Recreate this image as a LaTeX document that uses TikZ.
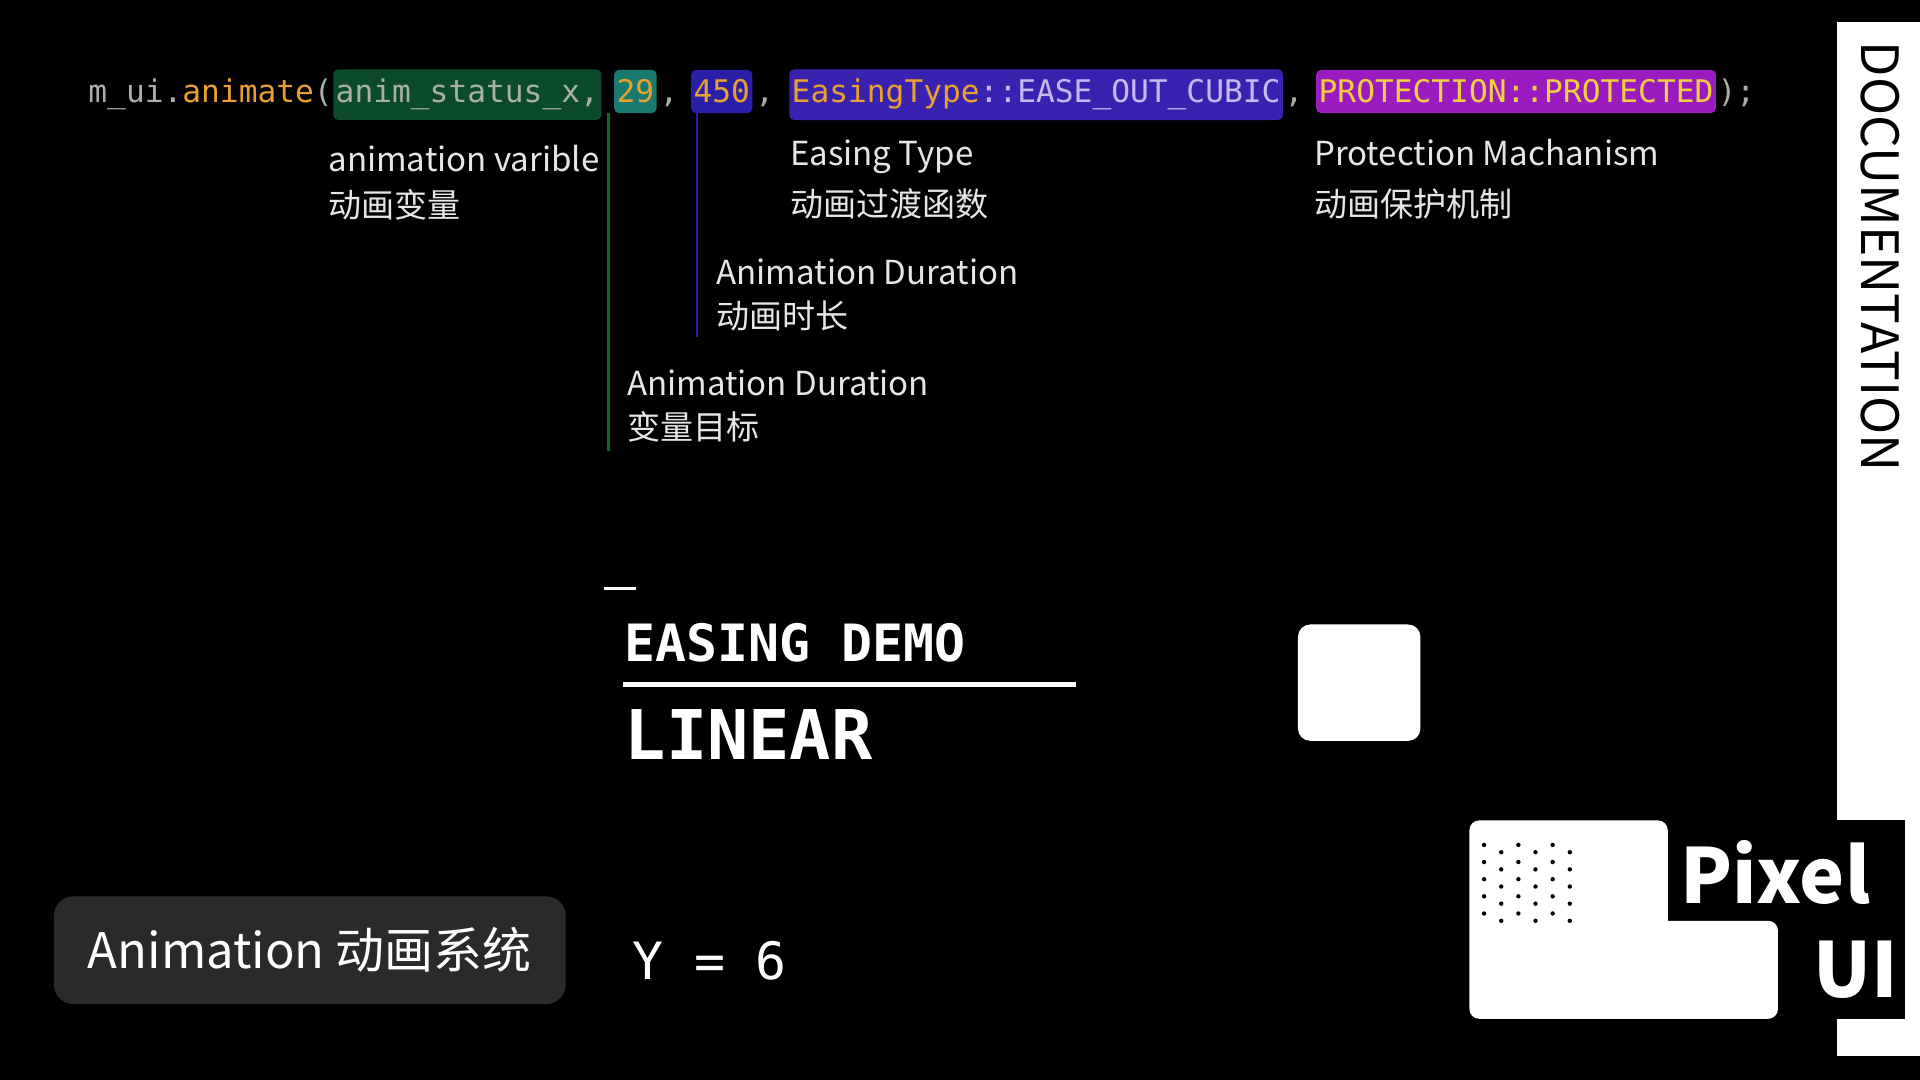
\documentclass[tikz,border=0pt]{standalone}
\usepackage{fontspec}
\setmainfont{Noto Sans CJK SC}
\setmonofont{DejaVu Sans Mono}
\usetikzlibrary{positioning,calc}
\definecolor{codegray}{HTML}{A8B0A8}
\definecolor{codeorange}{HTML}{E8A030}
\definecolor{boxgreen}{HTML}{0B4A2A}
\definecolor{boxteal}{HTML}{1A7A70}
\definecolor{boxblue}{HTML}{2A1FA8}
\definecolor{boxpurple}{HTML}{3A22B0}
\definecolor{boxmagenta}{HTML}{9A1CC0}
\definecolor{codelilac}{HTML}{C8B8F0}
\definecolor{codeyellow}{HTML}{F0D040}
\definecolor{labelgray}{HTML}{E6E6E6}
\definecolor{tagbg}{HTML}{2A2A2A}
\tikzset{
  code/.style={font=\ttfamily\fontsize{25.5}{25.5}\selectfont, inner sep=0pt, anchor=base west},
  hl/.style={code, fill=#1, rounded corners=4pt, inner xsep=2pt, inner ysep=8pt},
  lbl/.style={font=\fontsize{27}{27}\selectfont, text=labelgray, anchor=base west, inner sep=0pt},
}
\begin{document}
\begin{tikzpicture}[x=1pt, y=-1pt]
\fill[black] (0,0) rectangle (1568,882);
\useasboundingbox (0,0) rectangle (1568,882);
% code line
\node[code, text=codegray] (call) at (72,84) {m\_ui.\textcolor{codeorange}{animate}(};
\node[hl=boxgreen, text=codegray, right=0pt of call.base east, anchor=base west] (var) {anim\_status\_x,};
\node[hl=boxteal, text=codeorange, right=10pt of var.base east, anchor=base west] (dur) {29};
\node[code, text=codegray, right=2pt of dur.base east, anchor=base west] (c1) {,};
\node[hl=boxblue, text=codeorange, right=10pt of c1.base east, anchor=base west] (delay) {450};
\node[code, text=codegray, right=2pt of delay.base east, anchor=base west] (c2) {,};
\node[hl=boxpurple, text=codelilac, right=12pt of c2.base east, anchor=base west] (ease) {\textcolor{codeorange}{EasingType}::EASE\_OUT\_CUBIC};
\node[code, text=codegray, right=1pt of ease.base east, anchor=base west] (c3) {,};
\node[hl=boxmagenta, text=codeyellow, right=10pt of c3.base east, anchor=base west] (prot) {PROTECTION::PROTECTED};
\node[code, text=codegray, right=1pt of prot.base east, anchor=base west] (end) {);};
% leader lines
\coordinate (varend) at (497,368);
\coordinate (delayend) at (569,275);
\draw[boxgreen!80!green, line width=2pt] (dur.south -| varend) -- (varend);
\draw[boxblue, line width=2pt] (delay.south -| delayend) -- (delayend);
% labels
\node[lbl] (varlbl) at (268,140) {animation varible};
\node[lbl] (varzh) at (268,178) {动画变量};
\node[lbl] (easelbl) at (645,135) {Easing Type};
\node[lbl] (easezh) at (645,177) {动画过渡函数};
\node[lbl] (protlbl) at (1073,135) {Protection Machanism};
\node[lbl] (protzh) at (1073,177) {动画保护机制};
\node[lbl] (durlbl) at (585,232) {Animation Duration};
\node[lbl] (durzh) at (585,268) {动画时长};
\node[lbl] (tgtlbl) at (512,323) {Animation Duration};
\node[lbl] (tgtzh) at (512,359) {变量目标};
% demo
\fill[white] (493,479) rectangle (519,482);
\node[font=\ttfamily\bfseries\fontsize{42}{42}\selectfont, text=white, anchor=base west, inner sep=0pt] (demo) at (510,540) {EASING DEMO};
\fill[white] (509,557) rectangle (879,561);
\node[font=\ttfamily\bfseries\fontsize{56}{56}\selectfont, text=white, anchor=base west, inner sep=0pt] (mode) at (510,620) {LINEAR};
\fill[white, rounded corners=10pt] (1060,510) rectangle (1160,605);
% tag
\node[fill=tagbg, rounded corners=16pt, minimum width=418pt, minimum height=88pt, text=white, font=\fontsize{40}{40}\selectfont] (tag) at (253,776) {Animation 动画系统};
\node[font=\ttfamily\fontsize{42}{42}\selectfont, text=white, anchor=base west, inner sep=0pt] (yval) at (516,800) {Y = 6};
% side strip
\fill[white] (1500,18) rectangle (1568,862);
\node[rotate=-90, font=\fontsize{42}{42}\selectfont, text=black, anchor=west, inner sep=0pt] (doc) at (1536,34) {DOCUMENTATION};
% logo
\fill[black] (1362,670) rectangle (1556,832);
\fill[white, rounded corners=8pt] (1200,670) rectangle (1362,832);
\fill[white, rounded corners=8pt] (1280,752) rectangle (1452,832);
\foreach \i in {0,...,5} \foreach \j in {0,...,4}
  \fill[black] ({1212+\i*14},{690+\j*14+(mod(\i,2))*6}) circle (1.8pt);
\node[font=\bfseries\fontsize{62}{62}\selectfont, text=white, anchor=base west, inner sep=0pt] (pixel) at (1372,738) {Pixel};
\node[font=\bfseries\fontsize{62}{62}\selectfont, text=white, anchor=base east, inner sep=0pt] (ui) at (1550,815) {UI};
\end{tikzpicture}
\end{document}
